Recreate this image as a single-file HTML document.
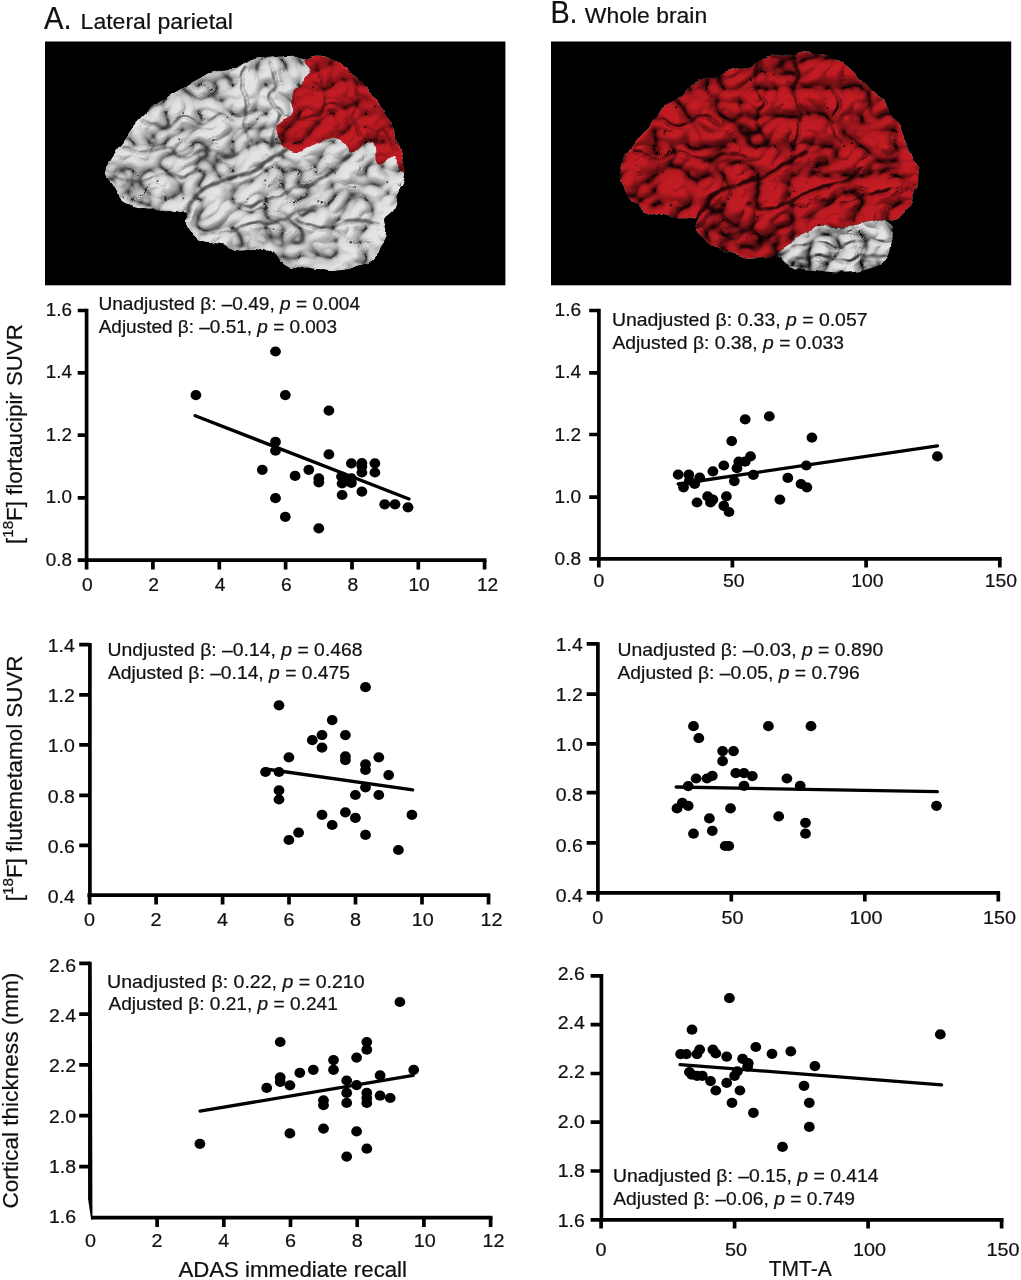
<!DOCTYPE html>
<html lang="en">
<head>
<meta charset="utf-8">
<title>Figure: tau, amyloid and cortical thickness vs cognition</title>
<style>
html,body{margin:0;padding:0;background:#fff;}
body{width:1021px;height:1280px;overflow:hidden;}
svg{display:block;}
svg text{font-family:"Liberation Sans", "DejaVu Sans", sans-serif;fill:#111;stroke:#111;stroke-width:0.22px;}
</style>
</head>
<body>
<svg width="1021" height="1280" viewBox="0 0 1021 1280">
<rect width="1021" height="1280" fill="#fff"/>
<g id="titles">
<text x="44.0" y="29.0" font-size="30.8" text-anchor="start" textLength="27.6" lengthAdjust="spacingAndGlyphs">A.</text>
<text x="80.6" y="28.7" font-size="21.5" text-anchor="start" textLength="152.4" lengthAdjust="spacingAndGlyphs">Lateral parietal</text>
<text x="550.4" y="23.1" font-size="30.8" text-anchor="start" textLength="27.2" lengthAdjust="spacingAndGlyphs">B.</text>
<text x="584.8" y="23.1" font-size="21.5" text-anchor="start" textLength="122.4" lengthAdjust="spacingAndGlyphs">Whole brain</text>
</g>
<g id="brains">
<rect x="45" y="41.5" width="460.4" height="243.8" fill="#000"/>
<rect x="551" y="41.5" width="460.2" height="243.8" fill="#000"/>
<defs><filter id="fBrain" x="-5%" y="-5%" width="110%" height="110%" color-interpolation-filters="sRGB">
 <feTurbulence type="fractalNoise" baseFrequency="0.055" numOctaves="2" seed="11" result="n2"/>
 <feDisplacementMap in="SourceGraphic" in2="n2" scale="8" xChannelSelector="R" yChannelSelector="G" result="shape"/>
 <feTurbulence type="turbulence" baseFrequency="0.030 0.035" numOctaves="2" seed="7" result="t"/>
 <feColorMatrix in="t" type="matrix" values="0 0 0 0 0  0 0 0 0 0  0 0 0 0 0  1 0 0 0 0" result="hT"/>
 <feColorMatrix in="shape" type="matrix" values="0 0 0 0 0  0 0 0 0 0  0 0 0 0 0  0 0 -1 0 1" result="mS"/>
 <feGaussianBlur in="mS" stdDeviation="0.85" result="mSb"/>
 <feComposite in="hT" in2="mSb" operator="arithmetic" k1="1" k2="0" k3="0" k4="0" result="h"/>
 <feColorMatrix in="h" type="matrix" values="0 0 0 1 0  0 0 0 1 0  0 0 0 1 0  0 0 0 0 1" result="hRGB"/>
 <feComponentTransfer in="hRGB" result="crease">
  <feFuncR type="table" tableValues="0.22 0.48 0.72 0.85 0.91 0.94 0.96 0.97 0.98 0.98 0.98 0.98 0.98 0.98 0.98 0.98 0.98 0.98 0.98 0.98"/>
  <feFuncG type="table" tableValues="0.22 0.48 0.72 0.85 0.91 0.94 0.96 0.97 0.98 0.98 0.98 0.98 0.98 0.98 0.98 0.98 0.98 0.98 0.98 0.98"/>
  <feFuncB type="table" tableValues="0.22 0.48 0.72 0.85 0.91 0.94 0.96 0.97 0.98 0.98 0.98 0.98 0.98 0.98 0.98 0.98 0.98 0.98 0.98 0.98"/>
 </feComponentTransfer>

 <feGaussianBlur in="h" stdDeviation="0.6" result="hb"/>
 <feDiffuseLighting in="hb" surfaceScale="8" diffuseConstant="1.12" lighting-color="#fff" result="lit">
  <feDistantLight azimuth="235" elevation="64"/>
 </feDiffuseLighting>
 <feComponentTransfer in="lit" result="lit2"><feFuncR type="linear" slope="0.6" intercept="0.4"/><feFuncG type="linear" slope="0.6" intercept="0.4"/><feFuncB type="linear" slope="0.6" intercept="0.4"/></feComponentTransfer>
 <feBlend in="crease" in2="lit2" mode="multiply" result="shade"/>
 <feColorMatrix in="shape" type="matrix" values="-0.130 0 0 0 0.910 -0.800 0 0 0 0.910 -0.770 0 0 0 0.910  0 0 0 1 0" result="base"/>
 <feBlend in="shade" in2="base" mode="multiply" result="col"/>
 <feComposite in="col" in2="shape" operator="in"/>
</filter><filter id="fBrainB" x="-5%" y="-5%" width="110%" height="110%" color-interpolation-filters="sRGB">
 <feTurbulence type="fractalNoise" baseFrequency="0.055" numOctaves="2" seed="4" result="n2"/>
 <feDisplacementMap in="SourceGraphic" in2="n2" scale="8" xChannelSelector="R" yChannelSelector="G" result="shape"/>
 <feTurbulence type="turbulence" baseFrequency="0.029 0.034" numOctaves="2" seed="5" result="t"/>
 <feColorMatrix in="t" type="matrix" values="0 0 0 0 0  0 0 0 0 0  0 0 0 0 0  1 0 0 0 0" result="hT"/>
 <feColorMatrix in="shape" type="matrix" values="0 0 0 0 0  0 0 0 0 0  0 0 0 0 0  0 0 -1 0 1" result="mS"/>
 <feGaussianBlur in="mS" stdDeviation="0.85" result="mSb"/>
 <feComposite in="hT" in2="mSb" operator="arithmetic" k1="1" k2="0" k3="0" k4="0" result="h"/>
 <feColorMatrix in="h" type="matrix" values="0 0 0 1 0  0 0 0 1 0  0 0 0 1 0  0 0 0 0 1" result="hRGB"/>
 <feComponentTransfer in="hRGB" result="crease">
  <feFuncR type="table" tableValues="0.05 0.30 0.62 0.80 0.89 0.93 0.95 0.96 0.97 0.98 0.98 0.98 0.98 0.98 0.98 0.98 0.98 0.98 0.98 0.98"/>
  <feFuncG type="table" tableValues="0.05 0.30 0.62 0.80 0.89 0.93 0.95 0.96 0.97 0.98 0.98 0.98 0.98 0.98 0.98 0.98 0.98 0.98 0.98 0.98"/>
  <feFuncB type="table" tableValues="0.05 0.30 0.62 0.80 0.89 0.93 0.95 0.96 0.97 0.98 0.98 0.98 0.98 0.98 0.98 0.98 0.98 0.98 0.98 0.98"/>
 </feComponentTransfer>

 <feGaussianBlur in="h" stdDeviation="0.6" result="hb"/>
 <feDiffuseLighting in="hb" surfaceScale="9" diffuseConstant="1.12" lighting-color="#fff" result="lit">
  <feDistantLight azimuth="235" elevation="64"/>
 </feDiffuseLighting>
 <feComponentTransfer in="lit" result="lit2"><feFuncR type="linear" slope="0.78" intercept="0.22"/><feFuncG type="linear" slope="0.78" intercept="0.22"/><feFuncB type="linear" slope="0.78" intercept="0.22"/></feComponentTransfer>
 <feBlend in="crease" in2="lit2" mode="multiply" result="shade"/>
 <feColorMatrix in="shape" type="matrix" values="-0.130 0 0 0 0.910 -0.800 0 0 0 0.910 -0.770 0 0 0 0.910  0 0 0 1 0" result="base"/>
 <feBlend in="shade" in2="base" mode="multiply" result="col"/>
 <feComposite in="col" in2="shape" operator="in"/>
</filter></defs>
<clipPath id="clipA"><path d="M106.8 169.3C107.2 166.6 107.6 163.1 109.4 159.6C111.2 156.1 115.0 151.5 117.5 148.3C119.9 145.0 121.8 143.2 123.9 140.2C126.1 137.2 128.0 133.7 130.4 130.5C132.8 127.3 135.2 124.3 138.5 120.8C141.7 117.3 145.8 113.0 149.8 109.5C153.8 106.0 158.4 102.8 162.7 99.8C167.0 96.8 171.6 94.1 175.7 91.7C179.7 89.3 182.9 87.5 187.0 85.2C191.0 83.0 195.6 80.3 199.9 78.1C204.2 76.0 208.5 73.8 212.8 72.3C217.1 70.8 221.7 69.7 225.7 69.1C229.8 68.4 234.1 69.3 237.1 68.4C240.0 67.6 241.1 65.7 243.5 64.2C246.0 62.7 248.1 60.5 251.6 59.4C255.1 58.3 260.2 58.2 264.5 57.8C268.8 57.3 273.2 57.1 277.5 56.8C281.8 56.5 286.6 55.7 290.4 56.2C294.2 56.6 297.4 58.7 300.1 59.4C302.8 60.0 303.9 60.5 306.6 60.0C309.2 59.6 312.5 57.0 316.2 56.8C320.0 56.6 324.9 57.2 329.2 58.7C333.5 60.3 338.3 63.3 342.1 65.9C345.9 68.4 348.6 71.0 351.8 73.9C355.0 76.9 358.3 80.4 361.5 83.6C364.7 86.9 368.2 89.8 371.2 93.3C374.2 96.8 376.6 100.6 379.3 104.6C382.0 108.7 384.9 113.3 387.4 117.6C389.8 121.9 391.9 126.2 393.8 130.5C395.7 134.8 397.3 139.1 398.7 143.4C400.0 147.7 400.8 152.0 401.9 156.4C403.0 160.7 404.9 165.0 405.1 169.3C405.4 173.6 404.6 178.4 403.5 182.2C402.4 186.0 399.9 188.7 398.7 191.9C397.5 195.1 397.3 198.5 396.4 201.6C395.5 204.7 394.5 208.3 393.2 210.7C391.9 213.0 390.1 214.0 388.6 215.5C387.2 217.0 385.0 218.0 384.4 219.7C383.9 221.4 384.8 223.9 385.1 225.8C385.4 227.8 386.6 229.2 386.4 231.3C386.2 233.5 384.7 236.2 383.8 238.8C382.9 241.4 382.8 244.2 381.2 246.9C379.7 249.5 376.9 252.2 374.4 254.9C371.9 257.6 369.6 261.1 366.3 263.0C363.1 264.9 358.5 265.3 355.0 266.2C351.5 267.2 349.1 268.2 345.3 268.8C341.6 269.5 336.2 270.0 332.4 270.1C328.6 270.2 325.9 269.7 322.7 269.5C319.5 269.3 316.2 269.4 313.0 268.8C309.8 268.3 306.0 266.4 303.3 266.2C300.6 266.1 299.3 267.4 296.9 267.9C294.4 268.3 291.5 269.4 288.8 268.8C286.1 268.3 282.9 266.7 280.7 264.6C278.5 262.6 277.7 259.0 275.8 256.6C274.0 254.1 271.8 251.7 269.4 250.1C267.0 248.5 264.3 246.9 261.3 246.9C258.3 246.9 254.8 249.3 251.6 250.1C248.4 250.9 245.1 251.7 241.9 251.7C238.7 251.7 234.9 251.2 232.2 250.1C229.5 249.0 228.4 246.3 225.7 245.2C223.1 244.2 219.8 244.2 216.1 243.6C212.3 243.1 206.9 243.1 203.1 242.0C199.4 240.9 196.1 239.3 193.4 237.2C190.7 235.0 188.6 231.8 187.0 229.1C185.3 226.4 183.7 223.7 183.7 221.0C183.7 218.3 187.5 214.3 187.0 212.9C186.4 211.6 183.2 213.2 180.5 212.9C177.8 212.6 174.3 211.8 170.8 211.3C167.3 210.8 163.3 210.0 159.5 209.7C155.7 209.4 151.7 210.0 148.2 209.7C144.7 209.4 141.7 208.9 138.5 208.1C135.2 207.3 131.7 206.2 128.8 204.8C125.8 203.5 122.9 202.1 120.7 200.0C118.6 197.8 117.5 194.6 115.9 191.9C114.2 189.2 112.5 186.5 111.0 183.8C109.5 181.1 107.5 178.2 106.8 175.7C106.1 173.3 106.4 172.0 106.8 169.3Z"/></clipPath>
<clipPath id="clipAr"><path d="M304.9 57.8C306.4 56.0 312.2 54.8 316.2 54.5C320.3 54.3 324.3 54.5 329.2 56.2C334.0 57.8 340.5 61.0 345.3 64.2C350.2 67.5 354.0 71.5 358.3 75.6C362.6 79.6 367.2 83.9 371.2 88.5C375.2 93.1 379.0 97.9 382.5 103.0C386.0 108.1 389.2 113.5 392.2 119.2C395.2 124.8 398.1 131.3 400.3 137.0C402.4 142.6 403.8 147.5 405.1 153.1C406.5 158.8 409.2 168.5 408.4 170.9C407.6 173.3 403.0 169.8 400.3 167.7C397.6 165.5 395.4 158.5 392.2 158.0C389.0 157.4 383.6 163.9 380.9 164.4C378.2 165.0 377.1 164.2 376.0 161.2C375.0 158.2 375.8 149.6 374.4 146.7C373.1 143.7 370.7 143.4 368.0 143.4C365.3 143.4 361.5 145.3 358.3 146.7C355.0 148.0 350.7 152.0 348.6 151.5C346.4 151.0 347.0 145.6 345.3 143.4C343.7 141.3 341.6 139.1 338.9 138.6C336.2 138.0 332.4 139.7 329.2 140.2C325.9 140.7 322.7 140.7 319.5 141.8C316.2 142.9 313.0 145.0 309.8 146.7C306.6 148.3 303.3 150.7 300.1 151.5C296.9 152.3 293.4 152.3 290.4 151.5C287.4 150.7 284.2 149.1 282.3 146.7C280.4 144.2 279.9 140.2 279.1 137.0C278.3 133.7 276.7 130.0 277.5 127.3C278.3 124.6 281.8 122.7 283.9 120.8C286.1 118.9 288.8 117.8 290.4 116.0C292.0 114.1 293.4 112.2 293.6 109.5C293.9 106.8 292.0 102.8 292.0 99.8C292.0 96.8 292.3 94.1 293.6 91.7C295.0 89.3 297.9 87.4 300.1 85.2C302.2 83.1 304.9 80.9 306.6 78.8C308.2 76.6 309.7 74.6 309.8 72.3C309.9 70.1 308.0 67.6 307.2 65.2C306.4 62.8 303.4 59.6 304.9 57.8Z"/></clipPath>
<clipPath id="clipB"><path d="M619.4 174.0C619.5 170.9 620.5 166.2 621.6 162.8C622.7 159.4 624.1 156.6 626.1 153.5C628.0 150.4 631.0 147.3 633.5 144.2C636.0 141.1 638.1 138.3 640.9 134.9C643.7 131.5 647.1 127.5 650.2 123.7C653.3 120.0 656.1 116.0 659.5 112.6C663.0 109.2 666.7 106.7 670.7 103.3C674.7 99.9 679.1 95.5 683.7 92.1C688.4 88.7 694.0 85.3 698.6 82.8C703.3 80.3 707.0 79.1 711.7 77.2C716.3 75.4 721.6 73.2 726.5 71.6C731.5 70.1 737.1 68.8 741.4 67.9C745.8 67.0 749.8 67.3 752.6 66.1C755.4 64.8 755.4 62.0 758.2 60.5C761.0 58.9 765.3 57.7 769.3 56.7C773.4 55.8 778.3 55.5 782.4 54.9C786.4 54.3 789.5 53.5 793.5 53.0C797.6 52.6 802.2 52.0 806.6 52.3C810.9 52.6 815.6 53.8 819.6 54.9C823.6 55.9 827.0 57.4 830.8 58.6C834.5 59.8 838.2 60.2 841.9 62.3C845.6 64.5 849.4 68.2 853.1 71.6C856.8 75.0 860.5 79.1 864.3 82.8C868.0 86.5 872.0 90.2 875.4 94.0C878.8 97.7 881.6 100.8 884.7 105.1C887.8 109.5 891.2 115.4 894.0 120.0C896.8 124.7 899.0 128.4 901.5 133.0C904.0 137.7 906.7 143.0 908.9 147.9C911.1 152.9 913.1 158.2 914.5 162.8C915.9 167.5 916.8 171.5 917.1 175.8C917.4 180.2 917.1 184.8 916.4 188.9C915.6 192.9 914.2 196.6 912.6 200.0C911.1 203.5 909.2 206.6 907.1 209.3C904.9 212.1 902.1 214.9 899.6 216.8C897.1 218.6 895.0 220.2 892.2 220.5C889.4 220.8 886.0 218.6 882.9 218.6C879.8 218.6 877.3 219.6 873.6 220.5C869.8 221.4 865.2 223.3 860.5 224.2C855.9 225.2 850.6 225.8 845.6 226.1C840.7 226.4 835.1 226.1 830.8 226.1C826.4 226.1 823.3 225.5 819.6 226.1C815.9 226.7 812.1 228.0 808.4 229.8C804.7 231.7 801.0 234.5 797.3 237.3C793.5 240.0 789.5 244.1 786.1 246.6C782.7 249.0 779.9 250.6 776.8 252.1C773.7 253.7 771.5 254.9 767.5 255.9C763.5 256.8 757.6 257.7 752.6 257.7C747.6 257.7 742.4 256.8 737.7 255.9C733.1 254.9 729.0 253.7 724.7 252.1C720.3 250.6 715.4 248.7 711.7 246.6C707.9 244.4 704.7 241.9 702.4 239.1C700.0 236.3 698.6 232.6 697.5 229.8C696.5 227.0 695.8 224.9 696.0 222.4C696.2 219.9 699.7 215.7 698.6 214.9C697.5 214.2 693.4 217.4 689.3 217.9C685.3 218.4 679.4 218.4 674.4 217.9C669.5 217.4 664.2 216.0 659.5 214.9C654.9 213.8 650.2 212.8 646.5 211.2C642.8 209.7 640.0 207.8 637.2 205.6C634.4 203.5 631.9 201.0 629.8 198.2C627.6 195.4 625.7 191.7 624.2 188.9C622.6 186.1 621.3 183.9 620.5 181.4C619.7 178.9 619.2 177.1 619.4 174.0Z"/></clipPath>
<clipPath id="clipBc"><path d="M776.8 252.9C777.4 251.0 782.7 249.2 786.1 246.6C789.5 244.0 793.5 240.0 797.3 237.3C801.0 234.5 804.7 231.7 808.4 229.8C812.1 228.0 814.6 226.6 819.6 226.1C824.6 225.6 831.4 227.1 838.2 226.8C845.0 226.5 854.3 225.4 860.5 224.2C866.7 223.1 871.4 220.7 875.4 219.8C879.4 218.8 881.9 217.6 884.7 218.6C887.5 219.7 890.6 223.6 892.2 226.1C893.7 228.6 894.3 230.7 894.0 233.5C893.7 236.3 891.2 239.4 890.3 242.8C889.4 246.3 890.0 250.6 888.4 254.0C886.9 257.4 884.1 260.8 881.0 263.3C877.9 265.8 873.9 267.5 869.8 268.9C865.8 270.3 861.5 270.9 856.8 271.5C852.2 272.1 846.9 272.6 841.9 272.6C837.0 272.6 831.7 271.9 827.0 271.5C822.4 271.1 818.0 270.4 814.0 270.0C810.0 269.6 806.3 269.1 802.8 268.9C799.4 268.7 796.0 269.8 793.5 268.9C791.1 268.0 789.8 265.2 788.0 263.3C786.1 261.4 784.2 259.5 782.4 257.7C780.5 256.0 776.2 254.8 776.8 252.9Z"/></clipPath>
<g id="brainA" filter="url(#fBrain)"><g clip-path="url(#clipA)"><path d="M106.8 169.3C107.2 166.6 107.6 163.1 109.4 159.6C111.2 156.1 115.0 151.5 117.5 148.3C119.9 145.0 121.8 143.2 123.9 140.2C126.1 137.2 128.0 133.7 130.4 130.5C132.8 127.3 135.2 124.3 138.5 120.8C141.7 117.3 145.8 113.0 149.8 109.5C153.8 106.0 158.4 102.8 162.7 99.8C167.0 96.8 171.6 94.1 175.7 91.7C179.7 89.3 182.9 87.5 187.0 85.2C191.0 83.0 195.6 80.3 199.9 78.1C204.2 76.0 208.5 73.8 212.8 72.3C217.1 70.8 221.7 69.7 225.7 69.1C229.8 68.4 234.1 69.3 237.1 68.4C240.0 67.6 241.1 65.7 243.5 64.2C246.0 62.7 248.1 60.5 251.6 59.4C255.1 58.3 260.2 58.2 264.5 57.8C268.8 57.3 273.2 57.1 277.5 56.8C281.8 56.5 286.6 55.7 290.4 56.2C294.2 56.6 297.4 58.7 300.1 59.4C302.8 60.0 303.9 60.5 306.6 60.0C309.2 59.6 312.5 57.0 316.2 56.8C320.0 56.6 324.9 57.2 329.2 58.7C333.5 60.3 338.3 63.3 342.1 65.9C345.9 68.4 348.6 71.0 351.8 73.9C355.0 76.9 358.3 80.4 361.5 83.6C364.7 86.9 368.2 89.8 371.2 93.3C374.2 96.8 376.6 100.6 379.3 104.6C382.0 108.7 384.9 113.3 387.4 117.6C389.8 121.9 391.9 126.2 393.8 130.5C395.7 134.8 397.3 139.1 398.7 143.4C400.0 147.7 400.8 152.0 401.9 156.4C403.0 160.7 404.9 165.0 405.1 169.3C405.4 173.6 404.6 178.4 403.5 182.2C402.4 186.0 399.9 188.7 398.7 191.9C397.5 195.1 397.3 198.5 396.4 201.6C395.5 204.7 394.5 208.3 393.2 210.7C391.9 213.0 390.1 214.0 388.6 215.5C387.2 217.0 385.0 218.0 384.4 219.7C383.9 221.4 384.8 223.9 385.1 225.8C385.4 227.8 386.6 229.2 386.4 231.3C386.2 233.5 384.7 236.2 383.8 238.8C382.9 241.4 382.8 244.2 381.2 246.9C379.7 249.5 376.9 252.2 374.4 254.9C371.9 257.6 369.6 261.1 366.3 263.0C363.1 264.9 358.5 265.3 355.0 266.2C351.5 267.2 349.1 268.2 345.3 268.8C341.6 269.5 336.2 270.0 332.4 270.1C328.6 270.2 325.9 269.7 322.7 269.5C319.5 269.3 316.2 269.4 313.0 268.8C309.8 268.3 306.0 266.4 303.3 266.2C300.6 266.1 299.3 267.4 296.9 267.9C294.4 268.3 291.5 269.4 288.8 268.8C286.1 268.3 282.9 266.7 280.7 264.6C278.5 262.6 277.7 259.0 275.8 256.6C274.0 254.1 271.8 251.7 269.4 250.1C267.0 248.5 264.3 246.9 261.3 246.9C258.3 246.9 254.8 249.3 251.6 250.1C248.4 250.9 245.1 251.7 241.9 251.7C238.7 251.7 234.9 251.2 232.2 250.1C229.5 249.0 228.4 246.3 225.7 245.2C223.1 244.2 219.8 244.2 216.1 243.6C212.3 243.1 206.9 243.1 203.1 242.0C199.4 240.9 196.1 239.3 193.4 237.2C190.7 235.0 188.6 231.8 187.0 229.1C185.3 226.4 183.7 223.7 183.7 221.0C183.7 218.3 187.5 214.3 187.0 212.9C186.4 211.6 183.2 213.2 180.5 212.9C177.8 212.6 174.3 211.8 170.8 211.3C167.3 210.8 163.3 210.0 159.5 209.7C155.7 209.4 151.7 210.0 148.2 209.7C144.7 209.4 141.7 208.9 138.5 208.1C135.2 207.3 131.7 206.2 128.8 204.8C125.8 203.5 122.9 202.1 120.7 200.0C118.6 197.8 117.5 194.6 115.9 191.9C114.2 189.2 112.5 186.5 111.0 183.8C109.5 181.1 107.5 178.2 106.8 175.7C106.1 173.3 106.4 172.0 106.8 169.3Z" fill="#000"/><path d="M187.0 217.1C188.6 213.6 191.8 201.2 196.7 195.8C201.5 190.3 209.6 187.4 216.1 184.5C222.5 181.5 228.4 180.4 235.4 178.0C242.4 175.6 251.6 173.3 258.1 169.9C264.5 166.5 269.3 160.9 274.2 157.6C279.2 154.4 285.5 151.7 287.8 150.5" fill="none" stroke="#00f" stroke-width="3.1" stroke-linecap="round"/><path d="M232.2 203.2C235.4 204.0 245.1 208.8 251.6 208.1C258.1 207.4 264.5 201.7 271.0 199.0C277.5 196.3 282.9 194.6 290.4 191.9C297.9 189.2 308.7 186.5 316.2 182.9C323.8 179.2 330.5 174.5 335.6 169.9C340.8 165.4 345.1 158.1 347.0 155.7" fill="none" stroke="#00f" stroke-width="2.4" stroke-linecap="round"/><path d="M271.0 62.6C271.8 65.9 275.8 75.8 275.8 82.0C275.8 88.2 270.2 94.1 271.0 99.8C271.8 105.5 280.0 110.3 280.7 116.0C281.3 121.6 276.5 128.1 274.9 133.7C273.3 139.4 271.6 147.2 271.0 149.9" fill="none" stroke="#00f" stroke-width="2.2" stroke-linecap="round"/><path d="M244.5 69.1C244.1 72.3 241.3 82.3 241.9 88.5C242.6 94.7 248.1 100.2 248.4 106.3C248.7 112.3 243.3 118.5 243.8 124.7C244.4 130.9 250.3 140.3 251.6 143.4" fill="none" stroke="#00f" stroke-width="2.0" stroke-linecap="round"/><path d="M201.5 233.9C205.5 233.5 217.4 232.9 225.7 231.3C234.1 229.8 243.0 226.6 251.6 224.9C260.2 223.2 269.9 222.7 277.5 221.0C285.0 219.3 290.4 216.7 296.9 214.5C303.3 212.4 313.0 209.1 316.2 208.1" fill="none" stroke="#00f" stroke-width="2.0" stroke-linecap="round"/><path d="M296.9 221.6C300.1 222.8 309.8 228.1 316.2 228.8C322.7 229.4 328.6 226.7 335.6 225.5C342.6 224.3 351.0 221.5 358.3 221.6C365.5 221.8 375.8 225.7 379.3 226.5" fill="none" stroke="#00f" stroke-width="2.6" stroke-linecap="round"/><path d="M141.7 121.4C145.5 122.5 157.3 128.5 164.3 127.9C171.3 127.4 177.3 118.8 183.7 118.2C190.2 117.7 197.2 125.2 203.1 124.7C209.0 124.1 214.2 115.5 219.3 115.0C224.4 114.4 231.4 120.4 233.8 121.4" fill="none" stroke="#00f" stroke-width="1.8" stroke-linecap="round"/><path d="M122.3 147.3C126.1 148.4 137.9 153.8 144.9 153.8C151.9 153.8 157.3 146.8 164.3 147.3C171.3 147.8 180.0 156.5 187.0 157.0C194.0 157.5 199.9 150.5 206.4 150.5C212.8 150.5 219.8 157.0 225.7 157.0C231.7 157.0 239.2 151.6 241.9 150.5" fill="none" stroke="#00f" stroke-width="1.8" stroke-linecap="round"/><path d="M115.9 176.4C119.6 177.5 130.9 183.4 138.5 182.9C146.0 182.3 153.6 173.7 161.1 173.2C168.6 172.6 177.7 180.2 183.7 179.6C189.8 179.1 195.0 171.5 197.3 169.9" fill="none" stroke="#00f" stroke-width="1.8" stroke-linecap="round"/><path d="M304.9 57.8C306.4 56.0 312.2 54.8 316.2 54.5C320.3 54.3 324.3 54.5 329.2 56.2C334.0 57.8 340.5 61.0 345.3 64.2C350.2 67.5 354.0 71.5 358.3 75.6C362.6 79.6 367.2 83.9 371.2 88.5C375.2 93.1 379.0 97.9 382.5 103.0C386.0 108.1 389.2 113.5 392.2 119.2C395.2 124.8 398.1 131.3 400.3 137.0C402.4 142.6 403.8 147.5 405.1 153.1C406.5 158.8 409.2 168.5 408.4 170.9C407.6 173.3 403.0 169.8 400.3 167.7C397.6 165.5 395.4 158.5 392.2 158.0C389.0 157.4 383.6 163.9 380.9 164.4C378.2 165.0 377.1 164.2 376.0 161.2C375.0 158.2 375.8 149.6 374.4 146.7C373.1 143.7 370.7 143.4 368.0 143.4C365.3 143.4 361.5 145.3 358.3 146.7C355.0 148.0 350.7 152.0 348.6 151.5C346.4 151.0 347.0 145.6 345.3 143.4C343.7 141.3 341.6 139.1 338.9 138.6C336.2 138.0 332.4 139.7 329.2 140.2C325.9 140.7 322.7 140.7 319.5 141.8C316.2 142.9 313.0 145.0 309.8 146.7C306.6 148.3 303.3 150.7 300.1 151.5C296.9 152.3 293.4 152.3 290.4 151.5C287.4 150.7 284.2 149.1 282.3 146.7C280.4 144.2 279.9 140.2 279.1 137.0C278.3 133.7 276.7 130.0 277.5 127.3C278.3 124.6 281.8 122.7 283.9 120.8C286.1 118.9 288.8 117.8 290.4 116.0C292.0 114.1 293.4 112.2 293.6 109.5C293.9 106.8 292.0 102.8 292.0 99.8C292.0 96.8 292.3 94.1 293.6 91.7C295.0 89.3 297.9 87.4 300.1 85.2C302.2 83.1 304.9 80.9 306.6 78.8C308.2 76.6 309.7 74.6 309.8 72.3C309.9 70.1 308.0 67.6 307.2 65.2C306.4 62.8 303.4 59.6 304.9 57.8Z" fill="#f00"/><g clip-path="url(#clipAr)"><path d="M296.9 120.8C300.1 120.0 310.9 118.6 316.2 116.0C321.6 113.3 324.3 106.0 329.2 104.6C334.0 103.3 340.0 109.0 345.3 107.9C350.7 106.8 358.8 99.8 361.5 98.2" fill="none" stroke="#f0f" stroke-width="2.0" stroke-linecap="round"/><path d="M355.0 78.8C355.6 82.0 358.5 91.7 358.3 98.2C358.0 104.6 353.1 111.1 353.4 117.6C353.7 124.0 358.8 133.7 359.9 137.0" fill="none" stroke="#f0f" stroke-width="2.0" stroke-linecap="round"/><path d="M316.2 65.9C317.3 69.1 320.8 79.3 322.7 85.2C324.6 91.2 326.8 98.7 327.6 101.4" fill="none" stroke="#f0f" stroke-width="1.8" stroke-linecap="round"/><path d="M374.4 146.7C375.5 144.0 378.5 132.1 380.9 130.5C383.3 128.9 386.3 133.7 389.0 137.0C391.7 140.2 395.7 147.7 397.1 149.9" fill="none" stroke="#f0f" stroke-width="1.8" stroke-linecap="round"/></g></g></g>
<g id="brainB" filter="url(#fBrainB)"><path d="M776.8 252.9C777.4 251.0 782.7 249.2 786.1 246.6C789.5 244.0 793.5 240.0 797.3 237.3C801.0 234.5 804.7 231.7 808.4 229.8C812.1 228.0 814.6 226.6 819.6 226.1C824.6 225.6 831.4 227.1 838.2 226.8C845.0 226.5 854.3 225.4 860.5 224.2C866.7 223.1 871.4 220.7 875.4 219.8C879.4 218.8 881.9 217.6 884.7 218.6C887.5 219.7 890.6 223.6 892.2 226.1C893.7 228.6 894.3 230.7 894.0 233.5C893.7 236.3 891.2 239.4 890.3 242.8C889.4 246.3 890.0 250.6 888.4 254.0C886.9 257.4 884.1 260.8 881.0 263.3C877.9 265.8 873.9 267.5 869.8 268.9C865.8 270.3 861.5 270.9 856.8 271.5C852.2 272.1 846.9 272.6 841.9 272.6C837.0 272.6 831.7 271.9 827.0 271.5C822.4 271.1 818.0 270.4 814.0 270.0C810.0 269.6 806.3 269.1 802.8 268.9C799.4 268.7 796.0 269.8 793.5 268.9C791.1 268.0 789.8 265.2 788.0 263.3C786.1 261.4 784.2 259.5 782.4 257.7C780.5 256.0 776.2 254.8 776.8 252.9Z" fill="#000"/><g clip-path="url(#clipBc)"><path d="M793.5 248.4C797.3 247.5 808.4 242.8 815.9 242.8C823.3 242.8 830.8 248.7 838.2 248.4C845.6 248.1 853.1 241.9 860.5 241.0C868.0 240.0 879.1 242.5 882.9 242.8" fill="none" stroke="#00f" stroke-width="1.7" stroke-linecap="round"/><path d="M797.3 261.4C801.0 260.5 812.1 255.7 819.6 255.9C827.0 256.1 834.5 262.6 841.9 262.6C849.4 262.6 857.1 256.7 864.3 255.9C871.4 255.1 881.3 257.4 884.7 257.7" fill="none" stroke="#00f" stroke-width="1.7" stroke-linecap="round"/></g><path d="M619.4 174.0C619.5 170.9 620.5 166.2 621.6 162.8C622.7 159.4 624.1 156.6 626.1 153.5C628.0 150.4 631.0 147.3 633.5 144.2C636.0 141.1 638.1 138.3 640.9 134.9C643.7 131.5 647.1 127.5 650.2 123.7C653.3 120.0 656.1 116.0 659.5 112.6C663.0 109.2 666.7 106.7 670.7 103.3C674.7 99.9 679.1 95.5 683.7 92.1C688.4 88.7 694.0 85.3 698.6 82.8C703.3 80.3 707.0 79.1 711.7 77.2C716.3 75.4 721.6 73.2 726.5 71.6C731.5 70.1 737.1 68.8 741.4 67.9C745.8 67.0 749.8 67.3 752.6 66.1C755.4 64.8 755.4 62.0 758.2 60.5C761.0 58.9 765.3 57.7 769.3 56.7C773.4 55.8 778.3 55.5 782.4 54.9C786.4 54.3 789.5 53.5 793.5 53.0C797.6 52.6 802.2 52.0 806.6 52.3C810.9 52.6 815.6 53.8 819.6 54.9C823.6 55.9 827.0 57.4 830.8 58.6C834.5 59.8 838.2 60.2 841.9 62.3C845.6 64.5 849.4 68.2 853.1 71.6C856.8 75.0 860.5 79.1 864.3 82.8C868.0 86.5 872.0 90.2 875.4 94.0C878.8 97.7 881.6 100.8 884.7 105.1C887.8 109.5 891.2 115.4 894.0 120.0C896.8 124.7 899.0 128.4 901.5 133.0C904.0 137.7 906.7 143.0 908.9 147.9C911.1 152.9 913.1 158.2 914.5 162.8C915.9 167.5 916.8 171.5 917.1 175.8C917.4 180.2 917.1 184.8 916.4 188.9C915.6 192.9 914.2 196.6 912.6 200.0C911.1 203.5 909.2 206.6 907.1 209.3C904.9 212.1 902.1 214.9 899.6 216.8C897.1 218.6 895.0 220.2 892.2 220.5C889.4 220.8 886.0 218.6 882.9 218.6C879.8 218.6 877.3 219.6 873.6 220.5C869.8 221.4 865.2 223.3 860.5 224.2C855.9 225.2 850.6 225.8 845.6 226.1C840.7 226.4 835.1 226.1 830.8 226.1C826.4 226.1 823.3 225.5 819.6 226.1C815.9 226.7 812.1 228.0 808.4 229.8C804.7 231.7 801.0 234.5 797.3 237.3C793.5 240.0 789.5 244.1 786.1 246.6C782.7 249.0 779.9 250.6 776.8 252.1C773.7 253.7 771.5 254.9 767.5 255.9C763.5 256.8 757.6 257.7 752.6 257.7C747.6 257.7 742.4 256.8 737.7 255.9C733.1 254.9 729.0 253.7 724.7 252.1C720.3 250.6 715.4 248.7 711.7 246.6C707.9 244.4 704.7 241.9 702.4 239.1C700.0 236.3 698.6 232.6 697.5 229.8C696.5 227.0 695.8 224.9 696.0 222.4C696.2 219.9 699.7 215.7 698.6 214.9C697.5 214.2 693.4 217.4 689.3 217.9C685.3 218.4 679.4 218.4 674.4 217.9C669.5 217.4 664.2 216.0 659.5 214.9C654.9 213.8 650.2 212.8 646.5 211.2C642.8 209.7 640.0 207.8 637.2 205.6C634.4 203.5 631.9 201.0 629.8 198.2C627.6 195.4 625.7 191.7 624.2 188.9C622.6 186.1 621.3 183.9 620.5 181.4C619.7 178.9 619.2 177.1 619.4 174.0Z" fill="#f00"/><g clip-path="url(#clipB)"><path d="M698.6 216.4C700.8 213.2 706.4 201.8 711.7 197.1C716.9 192.3 723.4 190.4 730.3 187.8C737.1 185.2 745.2 184.2 752.6 181.4C760.0 178.6 768.1 174.6 774.9 171.0C781.7 167.4 787.8 163.1 793.5 159.8C799.2 156.6 806.6 153.0 809.2 151.7" fill="none" stroke="#f0f" stroke-width="3.1" stroke-linecap="round"/><path d="M748.9 206.4C752.6 207.0 763.8 211.0 771.2 210.1C778.6 209.2 786.1 203.9 793.5 200.8C801.0 197.7 807.8 194.6 815.9 191.5C823.9 188.4 834.5 185.9 841.9 182.2C849.4 178.5 857.4 171.3 860.5 169.1" fill="none" stroke="#f0f" stroke-width="2.4" stroke-linecap="round"/><path d="M793.5 54.9C794.5 58.3 799.1 68.5 799.1 75.4C799.1 82.2 792.9 89.3 793.5 95.8C794.2 102.3 802.2 108.2 802.8 114.4C803.5 120.6 798.8 126.8 797.3 133.0C795.7 139.2 794.2 148.6 793.5 151.7" fill="none" stroke="#f0f" stroke-width="2.2" stroke-linecap="round"/><path d="M758.2 62.3C757.9 66.1 755.4 77.8 756.3 84.7C757.2 91.5 763.5 96.8 763.8 103.3C764.1 109.8 757.6 116.8 758.2 123.7C758.8 130.7 765.9 141.4 767.5 145.0" fill="none" stroke="#f0f" stroke-width="2.0" stroke-linecap="round"/><path d="M655.8 120.0C659.9 121.3 672.6 128.1 680.0 127.5C687.5 126.8 693.4 116.7 700.5 116.3C707.6 115.9 716.0 125.2 722.8 124.9C729.6 124.5 738.3 116.2 741.4 114.4" fill="none" stroke="#f0f" stroke-width="1.8" stroke-linecap="round"/><path d="M633.5 151.7C637.8 152.8 651.8 158.5 659.5 158.4C667.3 158.2 672.6 150.5 680.0 150.9C687.5 151.3 696.5 160.5 704.2 161.0C712.0 161.4 719.4 153.7 726.5 153.5C733.7 153.3 743.6 158.8 747.0 159.8" fill="none" stroke="#f0f" stroke-width="1.8" stroke-linecap="round"/><path d="M830.8 84.7C832.0 88.1 837.9 98.3 838.2 105.1C838.5 112.0 832.0 119.1 832.6 125.6C833.2 132.1 840.4 141.1 841.9 144.2" fill="none" stroke="#f0f" stroke-width="1.8" stroke-linecap="round"/><path d="M823.3 200.0C827.0 200.7 838.2 204.4 845.6 203.8C853.1 203.1 860.5 198.8 868.0 196.3C875.4 193.8 886.6 190.1 890.3 188.9" fill="none" stroke="#f0f" stroke-width="1.8" stroke-linecap="round"/></g></g>
</g>
<g id="plot-A1">
<path d="M86.6 308.8 V562.1" stroke="#000" stroke-width="3.7" fill="none"/>
<path d="M77.7 560.2 H486.5" stroke="#000" stroke-width="3.7" fill="none"/>
<text x="71.9" y="315.6" font-size="18.6" text-anchor="end" textLength="26.2" lengthAdjust="spacingAndGlyphs">1.6</text>
<text x="71.9" y="378.1" font-size="18.6" text-anchor="end" textLength="26.2" lengthAdjust="spacingAndGlyphs">1.4</text>
<text x="71.9" y="440.6" font-size="18.6" text-anchor="end" textLength="26.2" lengthAdjust="spacingAndGlyphs">1.2</text>
<text x="71.9" y="503.1" font-size="18.6" text-anchor="end" textLength="26.2" lengthAdjust="spacingAndGlyphs">1.0</text>
<text x="71.9" y="565.6" font-size="18.6" text-anchor="end" textLength="26.2" lengthAdjust="spacingAndGlyphs">0.8</text>
<path d="M77.7 310.5 H86.6 M77.7 372.9 H86.6 M77.7 435.2 H86.6 M77.7 497.8 H86.6 " stroke="#000" stroke-width="3.7" fill="none"/>
<text x="87.4" y="590.8" font-size="18.6" text-anchor="middle" textLength="10.7" lengthAdjust="spacingAndGlyphs">0</text>
<text x="153.7" y="590.8" font-size="18.6" text-anchor="middle" textLength="10.7" lengthAdjust="spacingAndGlyphs">2</text>
<text x="220.1" y="590.8" font-size="18.6" text-anchor="middle" textLength="10.7" lengthAdjust="spacingAndGlyphs">4</text>
<text x="286.4" y="590.8" font-size="18.6" text-anchor="middle" textLength="10.7" lengthAdjust="spacingAndGlyphs">6</text>
<text x="352.8" y="590.8" font-size="18.6" text-anchor="middle" textLength="10.7" lengthAdjust="spacingAndGlyphs">8</text>
<text x="419.1" y="590.8" font-size="18.6" text-anchor="middle" textLength="21.3" lengthAdjust="spacingAndGlyphs">10</text>
<text x="487.6" y="590.8" font-size="18.6" text-anchor="middle" textLength="21.3" lengthAdjust="spacingAndGlyphs">12</text>
<path d="M86.6 560.2 V569.6 M152.9 560.2 V569.6 M219.3 560.2 V569.6 M285.6 560.2 V569.6 M352.0 560.2 V569.6 M418.3 560.2 V569.6 M484.6 560.2 V569.6 " stroke="#000" stroke-width="3.7" fill="none"/>
<text x="98.5" y="310.3" font-size="18.6" text-anchor="start" textLength="261.6" lengthAdjust="spacingAndGlyphs">Unadjusted β: –0.49, <tspan font-style="italic">p</tspan> = 0.004</text>
<text x="98.7" y="332.7" font-size="18.6" text-anchor="start" textLength="238.3" lengthAdjust="spacingAndGlyphs">Adjusted β: –0.51, <tspan font-style="italic">p</tspan> = 0.003</text>
<line x1="195.2" y1="415.7" x2="409" y2="499" stroke="#000" stroke-width="3.3" stroke-linecap="round"/>
<g fill="#000"><ellipse cx="195.9" cy="395.1" rx="5.4" ry="5.1"/><ellipse cx="275.5" cy="351.5" rx="5.4" ry="5.1"/><ellipse cx="285.3" cy="395.1" rx="5.4" ry="5.1"/><ellipse cx="328.9" cy="410.6" rx="5.4" ry="5.1"/><ellipse cx="275.5" cy="441.9" rx="5.4" ry="5.1"/><ellipse cx="275.5" cy="450.7" rx="5.4" ry="5.1"/><ellipse cx="328.9" cy="454.4" rx="5.4" ry="5.1"/><ellipse cx="262.3" cy="469.8" rx="5.4" ry="5.1"/><ellipse cx="295.1" cy="475.9" rx="5.4" ry="5.1"/><ellipse cx="308.8" cy="469.8" rx="5.4" ry="5.1"/><ellipse cx="318.8" cy="478.4" rx="5.4" ry="5.1"/><ellipse cx="318.8" cy="482.3" rx="5.4" ry="5.1"/><ellipse cx="275.5" cy="498.2" rx="5.4" ry="5.1"/><ellipse cx="285.3" cy="516.8" rx="5.4" ry="5.1"/><ellipse cx="318.8" cy="528.3" rx="5.4" ry="5.1"/><ellipse cx="341.5" cy="476.5" rx="5.4" ry="5.1"/><ellipse cx="343.5" cy="480.5" rx="5.4" ry="5.1"/><ellipse cx="342.1" cy="483.5" rx="5.4" ry="5.1"/><ellipse cx="342.1" cy="495.0" rx="5.4" ry="5.1"/><ellipse cx="351.4" cy="463.4" rx="5.4" ry="5.1"/><ellipse cx="351.4" cy="478.4" rx="5.4" ry="5.1"/><ellipse cx="351.4" cy="483.0" rx="5.4" ry="5.1"/><ellipse cx="361.9" cy="463.0" rx="5.4" ry="5.1"/><ellipse cx="361.9" cy="466.4" rx="5.4" ry="5.1"/><ellipse cx="361.9" cy="472.5" rx="5.4" ry="5.1"/><ellipse cx="361.9" cy="491.6" rx="5.4" ry="5.1"/><ellipse cx="374.9" cy="463.4" rx="5.4" ry="5.1"/><ellipse cx="374.9" cy="472.5" rx="5.4" ry="5.1"/><ellipse cx="384.7" cy="504.3" rx="5.4" ry="5.1"/><ellipse cx="395.0" cy="504.3" rx="5.4" ry="5.1"/><ellipse cx="408.0" cy="507.3" rx="5.4" ry="5.1"/></g>
</g>
<g id="plot-A2">
<path d="M89.9 643.0 V897.0" stroke="#000" stroke-width="3.7" fill="none"/>
<path d="M87.4 895.1 H490.3" stroke="#000" stroke-width="3.7" fill="none"/>
<text x="74.8" y="651.9" font-size="19.2" text-anchor="end" textLength="27.1" lengthAdjust="spacingAndGlyphs">1.4</text>
<text x="74.8" y="702.1" font-size="19.2" text-anchor="end" textLength="27.1" lengthAdjust="spacingAndGlyphs">1.2</text>
<text x="74.8" y="752.3" font-size="19.2" text-anchor="end" textLength="27.1" lengthAdjust="spacingAndGlyphs">1.0</text>
<text x="74.8" y="802.6" font-size="19.2" text-anchor="end" textLength="27.1" lengthAdjust="spacingAndGlyphs">0.8</text>
<text x="74.8" y="852.8" font-size="19.2" text-anchor="end" textLength="27.1" lengthAdjust="spacingAndGlyphs">0.6</text>
<text x="74.8" y="903.0" font-size="19.2" text-anchor="end" textLength="27.1" lengthAdjust="spacingAndGlyphs">0.4</text>
<path d="M79.2 644.7 H89.9 M79.2 694.9 H89.9 M79.2 744.8 H89.9 M79.2 795.3 H89.9 M79.2 845.4 H89.9 " stroke="#000" stroke-width="3.7" fill="none"/>
<text x="89.6" y="926.4" font-size="19.2" text-anchor="middle" textLength="11.0" lengthAdjust="spacingAndGlyphs">0</text>
<text x="156.1" y="926.4" font-size="19.2" text-anchor="middle" textLength="11.0" lengthAdjust="spacingAndGlyphs">2</text>
<text x="222.6" y="926.4" font-size="19.2" text-anchor="middle" textLength="11.0" lengthAdjust="spacingAndGlyphs">4</text>
<text x="289.0" y="926.4" font-size="19.2" text-anchor="middle" textLength="11.0" lengthAdjust="spacingAndGlyphs">6</text>
<text x="355.5" y="926.4" font-size="19.2" text-anchor="middle" textLength="11.0" lengthAdjust="spacingAndGlyphs">8</text>
<text x="422.8" y="926.4" font-size="19.2" text-anchor="middle" textLength="22.0" lengthAdjust="spacingAndGlyphs">10</text>
<text x="491.5" y="926.4" font-size="19.2" text-anchor="middle" textLength="22.0" lengthAdjust="spacingAndGlyphs">12</text>
<path d="M89.6 895.1 V904.5 M156.1 895.1 V904.5 M222.6 895.1 V904.5 M289.0 895.1 V904.5 M355.5 895.1 V904.5 M422.0 895.1 V904.5 M488.5 895.1 V904.5 " stroke="#000" stroke-width="3.7" fill="none"/>
<text x="107.6" y="655.6" font-size="18.6" text-anchor="start" textLength="255.0" lengthAdjust="spacingAndGlyphs">Undjusted β: –0.14, <tspan font-style="italic">p</tspan> = 0.468</text>
<text x="108.0" y="678.9" font-size="18.6" text-anchor="start" textLength="242.0" lengthAdjust="spacingAndGlyphs">Adjusted β: –0.14, <tspan font-style="italic">p</tspan> = 0.475</text>
<line x1="265.5" y1="769" x2="412.7" y2="789.9" stroke="#000" stroke-width="3.3" stroke-linecap="round"/>
<g fill="#000"><ellipse cx="365.5" cy="687.2" rx="5.4" ry="5.1"/><ellipse cx="279.0" cy="705.3" rx="5.4" ry="5.1"/><ellipse cx="332.2" cy="720.1" rx="5.4" ry="5.1"/><ellipse cx="322.0" cy="735.1" rx="5.4" ry="5.1"/><ellipse cx="345.4" cy="735.1" rx="5.4" ry="5.1"/><ellipse cx="312.3" cy="740.2" rx="5.4" ry="5.1"/><ellipse cx="322.0" cy="747.6" rx="5.4" ry="5.1"/><ellipse cx="288.9" cy="757.3" rx="5.4" ry="5.1"/><ellipse cx="345.4" cy="756.3" rx="5.4" ry="5.1"/><ellipse cx="345.4" cy="760.1" rx="5.4" ry="5.1"/><ellipse cx="378.8" cy="757.3" rx="5.4" ry="5.1"/><ellipse cx="365.5" cy="764.4" rx="5.4" ry="5.1"/><ellipse cx="365.5" cy="770.0" rx="5.4" ry="5.1"/><ellipse cx="265.5" cy="772.0" rx="5.4" ry="5.1"/><ellipse cx="279.0" cy="772.0" rx="5.4" ry="5.1"/><ellipse cx="388.7" cy="775.1" rx="5.4" ry="5.1"/><ellipse cx="365.5" cy="787.3" rx="5.4" ry="5.1"/><ellipse cx="279.0" cy="790.4" rx="5.4" ry="5.1"/><ellipse cx="279.0" cy="799.5" rx="5.4" ry="5.1"/><ellipse cx="355.4" cy="795.0" rx="5.4" ry="5.1"/><ellipse cx="378.8" cy="795.0" rx="5.4" ry="5.1"/><ellipse cx="322.0" cy="814.8" rx="5.4" ry="5.1"/><ellipse cx="345.4" cy="812.3" rx="5.4" ry="5.1"/><ellipse cx="355.4" cy="817.9" rx="5.4" ry="5.1"/><ellipse cx="411.9" cy="814.8" rx="5.4" ry="5.1"/><ellipse cx="332.2" cy="825.0" rx="5.4" ry="5.1"/><ellipse cx="298.6" cy="832.7" rx="5.4" ry="5.1"/><ellipse cx="288.9" cy="840.0" rx="5.4" ry="5.1"/><ellipse cx="365.5" cy="834.9" rx="5.4" ry="5.1"/><ellipse cx="398.4" cy="850.0" rx="5.4" ry="5.1"/></g>
</g>
<g id="plot-A3">
<path d="M88.05 961.7 H91.75 L92.45 1219.4 H91.15 L88.05 1199 Z" fill="#000"/>
<path d="M91.1 1217.6 H492.5" stroke="#000" stroke-width="3.7" fill="none"/>
<text x="76.0" y="971.9" font-size="19.2" text-anchor="end" textLength="27.1" lengthAdjust="spacingAndGlyphs">2.6</text>
<text x="76.0" y="1022.2" font-size="19.2" text-anchor="end" textLength="27.1" lengthAdjust="spacingAndGlyphs">2.4</text>
<text x="76.0" y="1072.4" font-size="19.2" text-anchor="end" textLength="27.1" lengthAdjust="spacingAndGlyphs">2.2</text>
<text x="76.0" y="1122.7" font-size="19.2" text-anchor="end" textLength="27.1" lengthAdjust="spacingAndGlyphs">2.0</text>
<text x="76.0" y="1172.9" font-size="19.2" text-anchor="end" textLength="27.1" lengthAdjust="spacingAndGlyphs">1.8</text>
<text x="76.0" y="1223.2" font-size="19.2" text-anchor="end" textLength="27.1" lengthAdjust="spacingAndGlyphs">1.6</text>
<path d="M79.2 963.4 H89.9 M79.2 1014.1 H89.9 M79.2 1064.8 H89.9 M79.2 1115.7 H89.9 M79.2 1166.7 H89.9 " stroke="#000" stroke-width="3.7" fill="none"/>
<text x="90.4" y="1247.2" font-size="19.2" text-anchor="middle" textLength="11.0" lengthAdjust="spacingAndGlyphs">0</text>
<text x="157.1" y="1247.2" font-size="19.2" text-anchor="middle" textLength="11.0" lengthAdjust="spacingAndGlyphs">2</text>
<text x="223.8" y="1247.2" font-size="19.2" text-anchor="middle" textLength="11.0" lengthAdjust="spacingAndGlyphs">4</text>
<text x="290.5" y="1247.2" font-size="19.2" text-anchor="middle" textLength="11.0" lengthAdjust="spacingAndGlyphs">6</text>
<text x="357.2" y="1247.2" font-size="19.2" text-anchor="middle" textLength="11.0" lengthAdjust="spacingAndGlyphs">8</text>
<text x="424.7" y="1247.2" font-size="19.2" text-anchor="middle" textLength="22.0" lengthAdjust="spacingAndGlyphs">10</text>
<text x="493.6" y="1247.2" font-size="19.2" text-anchor="middle" textLength="22.0" lengthAdjust="spacingAndGlyphs">12</text>
<path d="M157.1 1217.6 V1227.0 M223.8 1217.6 V1227.0 M290.5 1217.6 V1227.0 M357.2 1217.6 V1227.0 M423.9 1217.6 V1227.0 M490.6 1217.6 V1227.0 " stroke="#000" stroke-width="3.7" fill="none"/>
<text x="107.1" y="987.5" font-size="18.6" text-anchor="start" textLength="257.5" lengthAdjust="spacingAndGlyphs">Unadjusted β: 0.22, <tspan font-style="italic">p</tspan> = 0.210</text>
<text x="108.5" y="1010.3" font-size="18.6" text-anchor="start" textLength="229.3" lengthAdjust="spacingAndGlyphs">Adjusted β: 0.21, <tspan font-style="italic">p</tspan> = 0.241</text>
<line x1="200" y1="1111.1" x2="413.2" y2="1075.4" stroke="#000" stroke-width="3.3" stroke-linecap="round"/>
<g fill="#000"><ellipse cx="399.9" cy="1002.0" rx="5.4" ry="5.1"/><ellipse cx="280.2" cy="1042.0" rx="5.4" ry="5.1"/><ellipse cx="366.8" cy="1042.0" rx="5.4" ry="5.1"/><ellipse cx="366.8" cy="1049.7" rx="5.4" ry="5.1"/><ellipse cx="333.5" cy="1060.1" rx="5.4" ry="5.1"/><ellipse cx="356.6" cy="1057.6" rx="5.4" ry="5.1"/><ellipse cx="333.5" cy="1069.8" rx="5.4" ry="5.1"/><ellipse cx="313.3" cy="1069.8" rx="5.4" ry="5.1"/><ellipse cx="299.8" cy="1072.8" rx="5.4" ry="5.1"/><ellipse cx="413.7" cy="1069.8" rx="5.4" ry="5.1"/><ellipse cx="280.2" cy="1077.4" rx="5.4" ry="5.1"/><ellipse cx="280.2" cy="1082.0" rx="5.4" ry="5.1"/><ellipse cx="380.1" cy="1075.4" rx="5.4" ry="5.1"/><ellipse cx="266.7" cy="1087.9" rx="5.4" ry="5.1"/><ellipse cx="289.9" cy="1085.3" rx="5.4" ry="5.1"/><ellipse cx="346.7" cy="1080.5" rx="5.4" ry="5.1"/><ellipse cx="356.6" cy="1085.1" rx="5.4" ry="5.1"/><ellipse cx="346.7" cy="1092.9" rx="5.4" ry="5.1"/><ellipse cx="366.8" cy="1092.9" rx="5.4" ry="5.1"/><ellipse cx="366.8" cy="1098.0" rx="5.4" ry="5.1"/><ellipse cx="380.1" cy="1095.7" rx="5.4" ry="5.1"/><ellipse cx="390.2" cy="1098.0" rx="5.4" ry="5.1"/><ellipse cx="323.5" cy="1100.3" rx="5.4" ry="5.1"/><ellipse cx="323.5" cy="1105.2" rx="5.4" ry="5.1"/><ellipse cx="346.7" cy="1102.9" rx="5.4" ry="5.1"/><ellipse cx="366.8" cy="1102.9" rx="5.4" ry="5.1"/><ellipse cx="323.5" cy="1128.6" rx="5.4" ry="5.1"/><ellipse cx="289.9" cy="1133.4" rx="5.4" ry="5.1"/><ellipse cx="356.6" cy="1131.4" rx="5.4" ry="5.1"/><ellipse cx="366.8" cy="1148.7" rx="5.4" ry="5.1"/><ellipse cx="346.7" cy="1156.6" rx="5.4" ry="5.1"/><ellipse cx="199.9" cy="1143.8" rx="5.4" ry="5.1"/></g>
</g>
<g id="plot-B1">
<path d="M598.9 308.8 V560.6" stroke="#000" stroke-width="3.7" fill="none"/>
<path d="M589.2 558.8 H1001.6" stroke="#000" stroke-width="3.7" fill="none"/>
<text x="581.1" y="315.8" font-size="18.8" text-anchor="end" textLength="26.5" lengthAdjust="spacingAndGlyphs">1.6</text>
<text x="581.1" y="378.2" font-size="18.8" text-anchor="end" textLength="26.5" lengthAdjust="spacingAndGlyphs">1.4</text>
<text x="581.1" y="440.5" font-size="18.8" text-anchor="end" textLength="26.5" lengthAdjust="spacingAndGlyphs">1.2</text>
<text x="581.1" y="502.9" font-size="18.8" text-anchor="end" textLength="26.5" lengthAdjust="spacingAndGlyphs">1.0</text>
<text x="581.1" y="565.3" font-size="18.8" text-anchor="end" textLength="26.5" lengthAdjust="spacingAndGlyphs">0.8</text>
<path d="M589.2 310.5 H598.9 M589.2 372.9 H598.9 M589.2 434.5 H598.9 M589.2 497.1 H598.9 " stroke="#000" stroke-width="3.7" fill="none"/>
<text x="598.8" y="587.2" font-size="18.8" text-anchor="middle" textLength="10.8" lengthAdjust="spacingAndGlyphs">0</text>
<text x="733.7" y="587.2" font-size="18.8" text-anchor="middle" textLength="21.6" lengthAdjust="spacingAndGlyphs">50</text>
<text x="867.4" y="587.2" font-size="18.8" text-anchor="middle" textLength="32.3" lengthAdjust="spacingAndGlyphs">100</text>
<text x="1001.0" y="587.2" font-size="18.8" text-anchor="middle" textLength="32.3" lengthAdjust="spacingAndGlyphs">150</text>
<path d="M598.8 558.8 V567.4 M732.4 558.8 V567.4 M866.1 558.8 V567.4 M999.8 558.8 V567.4 " stroke="#000" stroke-width="3.7" fill="none"/>
<text x="611.9" y="326.4" font-size="18.6" text-anchor="start" textLength="255.6" lengthAdjust="spacingAndGlyphs">Unadjusted β: 0.33, <tspan font-style="italic">p</tspan> = 0.057</text>
<text x="612.4" y="348.9" font-size="18.6" text-anchor="start" textLength="231.7" lengthAdjust="spacingAndGlyphs">Adjusted β: 0.38, <tspan font-style="italic">p</tspan> = 0.033</text>
<line x1="678.2" y1="484" x2="937.4" y2="445.8" stroke="#000" stroke-width="3.3" stroke-linecap="round"/>
<g fill="#000"><ellipse cx="745.2" cy="419.4" rx="5.4" ry="5.1"/><ellipse cx="769.3" cy="416.4" rx="5.4" ry="5.1"/><ellipse cx="731.7" cy="441.1" rx="5.4" ry="5.1"/><ellipse cx="811.9" cy="437.6" rx="5.4" ry="5.1"/><ellipse cx="937.4" cy="456.4" rx="5.4" ry="5.1"/><ellipse cx="750.5" cy="456.4" rx="5.4" ry="5.1"/><ellipse cx="745.2" cy="461.7" rx="5.4" ry="5.1"/><ellipse cx="738.8" cy="461.7" rx="5.4" ry="5.1"/><ellipse cx="737.0" cy="468.2" rx="5.4" ry="5.1"/><ellipse cx="723.8" cy="465.5" rx="5.4" ry="5.1"/><ellipse cx="712.9" cy="471.4" rx="5.4" ry="5.1"/><ellipse cx="806.3" cy="465.5" rx="5.4" ry="5.1"/><ellipse cx="753.4" cy="474.9" rx="5.4" ry="5.1"/><ellipse cx="734.3" cy="481.1" rx="5.4" ry="5.1"/><ellipse cx="787.8" cy="477.9" rx="5.4" ry="5.1"/><ellipse cx="801.0" cy="484.0" rx="5.4" ry="5.1"/><ellipse cx="806.9" cy="487.3" rx="5.4" ry="5.1"/><ellipse cx="779.9" cy="499.6" rx="5.4" ry="5.1"/><ellipse cx="678.2" cy="474.6" rx="5.4" ry="5.1"/><ellipse cx="688.8" cy="474.6" rx="5.4" ry="5.1"/><ellipse cx="699.7" cy="477.6" rx="5.4" ry="5.1"/><ellipse cx="689.4" cy="480.5" rx="5.4" ry="5.1"/><ellipse cx="694.7" cy="484.0" rx="5.4" ry="5.1"/><ellipse cx="683.5" cy="487.3" rx="5.4" ry="5.1"/><ellipse cx="697.0" cy="502.5" rx="5.4" ry="5.1"/><ellipse cx="707.6" cy="496.4" rx="5.4" ry="5.1"/><ellipse cx="712.9" cy="499.6" rx="5.4" ry="5.1"/><ellipse cx="710.5" cy="502.5" rx="5.4" ry="5.1"/><ellipse cx="726.4" cy="496.4" rx="5.4" ry="5.1"/><ellipse cx="723.8" cy="505.8" rx="5.4" ry="5.1"/><ellipse cx="729.0" cy="512.0" rx="5.4" ry="5.1"/></g>
</g>
<g id="plot-B2">
<path d="M597.9 642.2 V894.6" stroke="#000" stroke-width="3.7" fill="none"/>
<path d="M586.7 892.8 H1000.1" stroke="#000" stroke-width="3.7" fill="none"/>
<text x="582.8" y="650.7" font-size="19.2" text-anchor="end" textLength="27.1" lengthAdjust="spacingAndGlyphs">1.4</text>
<text x="582.8" y="700.9" font-size="19.2" text-anchor="end" textLength="27.1" lengthAdjust="spacingAndGlyphs">1.2</text>
<text x="582.8" y="751.1" font-size="19.2" text-anchor="end" textLength="27.1" lengthAdjust="spacingAndGlyphs">1.0</text>
<text x="582.8" y="801.3" font-size="19.2" text-anchor="end" textLength="27.1" lengthAdjust="spacingAndGlyphs">0.8</text>
<text x="582.8" y="851.5" font-size="19.2" text-anchor="end" textLength="27.1" lengthAdjust="spacingAndGlyphs">0.6</text>
<text x="582.8" y="901.7" font-size="19.2" text-anchor="end" textLength="27.1" lengthAdjust="spacingAndGlyphs">0.4</text>
<path d="M586.7 643.9 H597.9 M586.7 694.1 H597.9 M586.7 743.8 H597.9 M586.7 792.7 H597.9 M586.7 842.9 H597.9 " stroke="#000" stroke-width="3.7" fill="none"/>
<text x="597.8" y="924.4" font-size="19.2" text-anchor="middle" textLength="11.0" lengthAdjust="spacingAndGlyphs">0</text>
<text x="732.6" y="924.4" font-size="19.2" text-anchor="middle" textLength="22.0" lengthAdjust="spacingAndGlyphs">50</text>
<text x="866.1" y="924.4" font-size="19.2" text-anchor="middle" textLength="33.0" lengthAdjust="spacingAndGlyphs">100</text>
<text x="999.6" y="924.4" font-size="19.2" text-anchor="middle" textLength="33.0" lengthAdjust="spacingAndGlyphs">150</text>
<path d="M597.8 892.8 V901.4 M731.3 892.8 V901.4 M864.8 892.8 V901.4 M998.3 892.8 V901.4 " stroke="#000" stroke-width="3.7" fill="none"/>
<text x="617.6" y="655.6" font-size="18.6" text-anchor="start" textLength="265.6" lengthAdjust="spacingAndGlyphs">Unadjusted β: –0.03, <tspan font-style="italic">p</tspan> = 0.890</text>
<text x="617.5" y="678.9" font-size="18.6" text-anchor="start" textLength="242.2" lengthAdjust="spacingAndGlyphs">Adjusted β: –0.05, <tspan font-style="italic">p</tspan> = 0.796</text>
<line x1="676.2" y1="787" x2="937.4" y2="791.7" stroke="#000" stroke-width="3.3" stroke-linecap="round"/>
<g fill="#000"><ellipse cx="693.5" cy="726.2" rx="5.4" ry="5.1"/><ellipse cx="768.4" cy="726.2" rx="5.4" ry="5.1"/><ellipse cx="811.0" cy="726.2" rx="5.4" ry="5.1"/><ellipse cx="698.8" cy="738.2" rx="5.4" ry="5.1"/><ellipse cx="722.6" cy="751.1" rx="5.4" ry="5.1"/><ellipse cx="733.5" cy="751.1" rx="5.4" ry="5.1"/><ellipse cx="722.6" cy="761.1" rx="5.4" ry="5.1"/><ellipse cx="696.1" cy="778.5" rx="5.4" ry="5.1"/><ellipse cx="707.0" cy="778.5" rx="5.4" ry="5.1"/><ellipse cx="712.3" cy="775.8" rx="5.4" ry="5.1"/><ellipse cx="735.8" cy="773.2" rx="5.4" ry="5.1"/><ellipse cx="744.0" cy="773.2" rx="5.4" ry="5.1"/><ellipse cx="752.3" cy="776.1" rx="5.4" ry="5.1"/><ellipse cx="786.9" cy="778.5" rx="5.4" ry="5.1"/><ellipse cx="688.2" cy="786.1" rx="5.4" ry="5.1"/><ellipse cx="744.0" cy="785.8" rx="5.4" ry="5.1"/><ellipse cx="800.2" cy="785.8" rx="5.4" ry="5.1"/><ellipse cx="682.3" cy="802.9" rx="5.4" ry="5.1"/><ellipse cx="677.0" cy="808.4" rx="5.4" ry="5.1"/><ellipse cx="688.2" cy="805.8" rx="5.4" ry="5.1"/><ellipse cx="730.5" cy="808.4" rx="5.4" ry="5.1"/><ellipse cx="936.5" cy="805.8" rx="5.4" ry="5.1"/><ellipse cx="709.4" cy="818.4" rx="5.4" ry="5.1"/><ellipse cx="778.7" cy="816.4" rx="5.4" ry="5.1"/><ellipse cx="805.5" cy="822.8" rx="5.4" ry="5.1"/><ellipse cx="805.5" cy="833.7" rx="5.4" ry="5.1"/><ellipse cx="712.3" cy="830.8" rx="5.4" ry="5.1"/><ellipse cx="693.5" cy="833.7" rx="5.4" ry="5.1"/><ellipse cx="725.2" cy="846.0" rx="5.4" ry="5.1"/><ellipse cx="728.8" cy="846.0" rx="5.4" ry="5.1"/></g>
</g>
<g id="plot-B3">
<path d="M601.4 974.1 V1221.6" stroke="#000" stroke-width="3.7" fill="none"/>
<path d="M590.6 1219.8 H1003.5" stroke="#000" stroke-width="3.7" fill="none"/>
<text x="584.8" y="979.5" font-size="19.2" text-anchor="end" textLength="27.1" lengthAdjust="spacingAndGlyphs">2.6</text>
<text x="584.8" y="1029.0" font-size="19.2" text-anchor="end" textLength="27.1" lengthAdjust="spacingAndGlyphs">2.4</text>
<text x="584.8" y="1078.4" font-size="19.2" text-anchor="end" textLength="27.1" lengthAdjust="spacingAndGlyphs">2.2</text>
<text x="584.8" y="1127.9" font-size="19.2" text-anchor="end" textLength="27.1" lengthAdjust="spacingAndGlyphs">2.0</text>
<text x="584.8" y="1177.3" font-size="19.2" text-anchor="end" textLength="27.1" lengthAdjust="spacingAndGlyphs">1.8</text>
<text x="584.8" y="1226.8" font-size="19.2" text-anchor="end" textLength="27.1" lengthAdjust="spacingAndGlyphs">1.6</text>
<path d="M590.6 975.9 H601.4 M590.6 1024.7 H601.4 M590.6 1073.5 H601.4 M590.6 1122.2 H601.4 M590.6 1171.0 H601.4 " stroke="#000" stroke-width="3.7" fill="none"/>
<text x="601.1" y="1256.2" font-size="19.2" text-anchor="middle" textLength="11.0" lengthAdjust="spacingAndGlyphs">0</text>
<text x="735.9" y="1256.2" font-size="19.2" text-anchor="middle" textLength="22.0" lengthAdjust="spacingAndGlyphs">50</text>
<text x="869.4" y="1256.2" font-size="19.2" text-anchor="middle" textLength="33.0" lengthAdjust="spacingAndGlyphs">100</text>
<text x="1002.9" y="1256.2" font-size="19.2" text-anchor="middle" textLength="33.0" lengthAdjust="spacingAndGlyphs">150</text>
<path d="M601.1 1219.8 V1228.4 M734.6 1219.8 V1228.4 M868.1 1219.8 V1228.4 M1001.6 1219.8 V1228.4 " stroke="#000" stroke-width="3.7" fill="none"/>
<text x="613.0" y="1181.9" font-size="18.6" text-anchor="start" textLength="265.6" lengthAdjust="spacingAndGlyphs">Unadjusted β: –0.15, <tspan font-style="italic">p</tspan> = 0.414</text>
<text x="613.2" y="1205.3" font-size="18.6" text-anchor="start" textLength="241.8" lengthAdjust="spacingAndGlyphs">Adjusted β: –0.06, <tspan font-style="italic">p</tspan> = 0.749</text>
<line x1="680" y1="1064.6" x2="941.5" y2="1084.9" stroke="#000" stroke-width="3.3" stroke-linecap="round"/>
<g fill="#000"><ellipse cx="729.4" cy="998.2" rx="5.4" ry="5.1"/><ellipse cx="692.0" cy="1029.7" rx="5.4" ry="5.1"/><ellipse cx="940.3" cy="1034.4" rx="5.4" ry="5.1"/><ellipse cx="755.8" cy="1047.0" rx="5.4" ry="5.1"/><ellipse cx="790.8" cy="1051.4" rx="5.4" ry="5.1"/><ellipse cx="772.0" cy="1053.8" rx="5.4" ry="5.1"/><ellipse cx="680.6" cy="1054.1" rx="5.4" ry="5.1"/><ellipse cx="686.4" cy="1054.1" rx="5.4" ry="5.1"/><ellipse cx="699.7" cy="1049.6" rx="5.4" ry="5.1"/><ellipse cx="697.0" cy="1054.1" rx="5.4" ry="5.1"/><ellipse cx="712.9" cy="1049.6" rx="5.4" ry="5.1"/><ellipse cx="715.8" cy="1053.5" rx="5.4" ry="5.1"/><ellipse cx="726.7" cy="1056.7" rx="5.4" ry="5.1"/><ellipse cx="742.6" cy="1058.8" rx="5.4" ry="5.1"/><ellipse cx="748.2" cy="1063.2" rx="5.4" ry="5.1"/><ellipse cx="747.6" cy="1066.7" rx="5.4" ry="5.1"/><ellipse cx="814.9" cy="1066.1" rx="5.4" ry="5.1"/><ellipse cx="737.3" cy="1071.4" rx="5.4" ry="5.1"/><ellipse cx="734.6" cy="1075.8" rx="5.4" ry="5.1"/><ellipse cx="689.4" cy="1072.0" rx="5.4" ry="5.1"/><ellipse cx="691.7" cy="1074.6" rx="5.4" ry="5.1"/><ellipse cx="697.0" cy="1075.8" rx="5.4" ry="5.1"/><ellipse cx="702.3" cy="1075.8" rx="5.4" ry="5.1"/><ellipse cx="710.5" cy="1081.1" rx="5.4" ry="5.1"/><ellipse cx="726.7" cy="1082.9" rx="5.4" ry="5.1"/><ellipse cx="715.8" cy="1090.5" rx="5.4" ry="5.1"/><ellipse cx="739.9" cy="1090.5" rx="5.4" ry="5.1"/><ellipse cx="804.0" cy="1085.8" rx="5.4" ry="5.1"/><ellipse cx="732.0" cy="1102.8" rx="5.4" ry="5.1"/><ellipse cx="809.3" cy="1102.8" rx="5.4" ry="5.1"/><ellipse cx="753.4" cy="1112.8" rx="5.4" ry="5.1"/><ellipse cx="809.3" cy="1126.9" rx="5.4" ry="5.1"/><ellipse cx="782.5" cy="1146.9" rx="5.4" ry="5.1"/></g>
</g>
<g id="axis-labels">
<text transform="translate(22.0 544.0) rotate(-90)" font-size="22.0" textLength="219.8" lengthAdjust="spacingAndGlyphs">[<tspan font-size="15" dy="-8.6">18</tspan><tspan dy="8.6">F] flortaucipir SUVR</tspan></text>
<text transform="translate(21.9 901.3) rotate(-90)" font-size="22.0" textLength="245.8" lengthAdjust="spacingAndGlyphs">[<tspan font-size="15" dy="-8.6">18</tspan><tspan dy="8.6">F] flutemetamol SUVR</tspan></text>
<text transform="translate(18.3 1208.6) rotate(-90)" font-size="22.0" textLength="236.0" lengthAdjust="spacingAndGlyphs">Cortical thickness (mm)</text>
<text x="178.4" y="1277.2" font-size="21.5" text-anchor="start" textLength="228.6" lengthAdjust="spacingAndGlyphs">ADAS immediate recall</text>
<text x="768.8" y="1276.3" font-size="21.5" text-anchor="start" textLength="63.0" lengthAdjust="spacingAndGlyphs">TMT-A</text>
</g>
</svg>
</body>
</html>
